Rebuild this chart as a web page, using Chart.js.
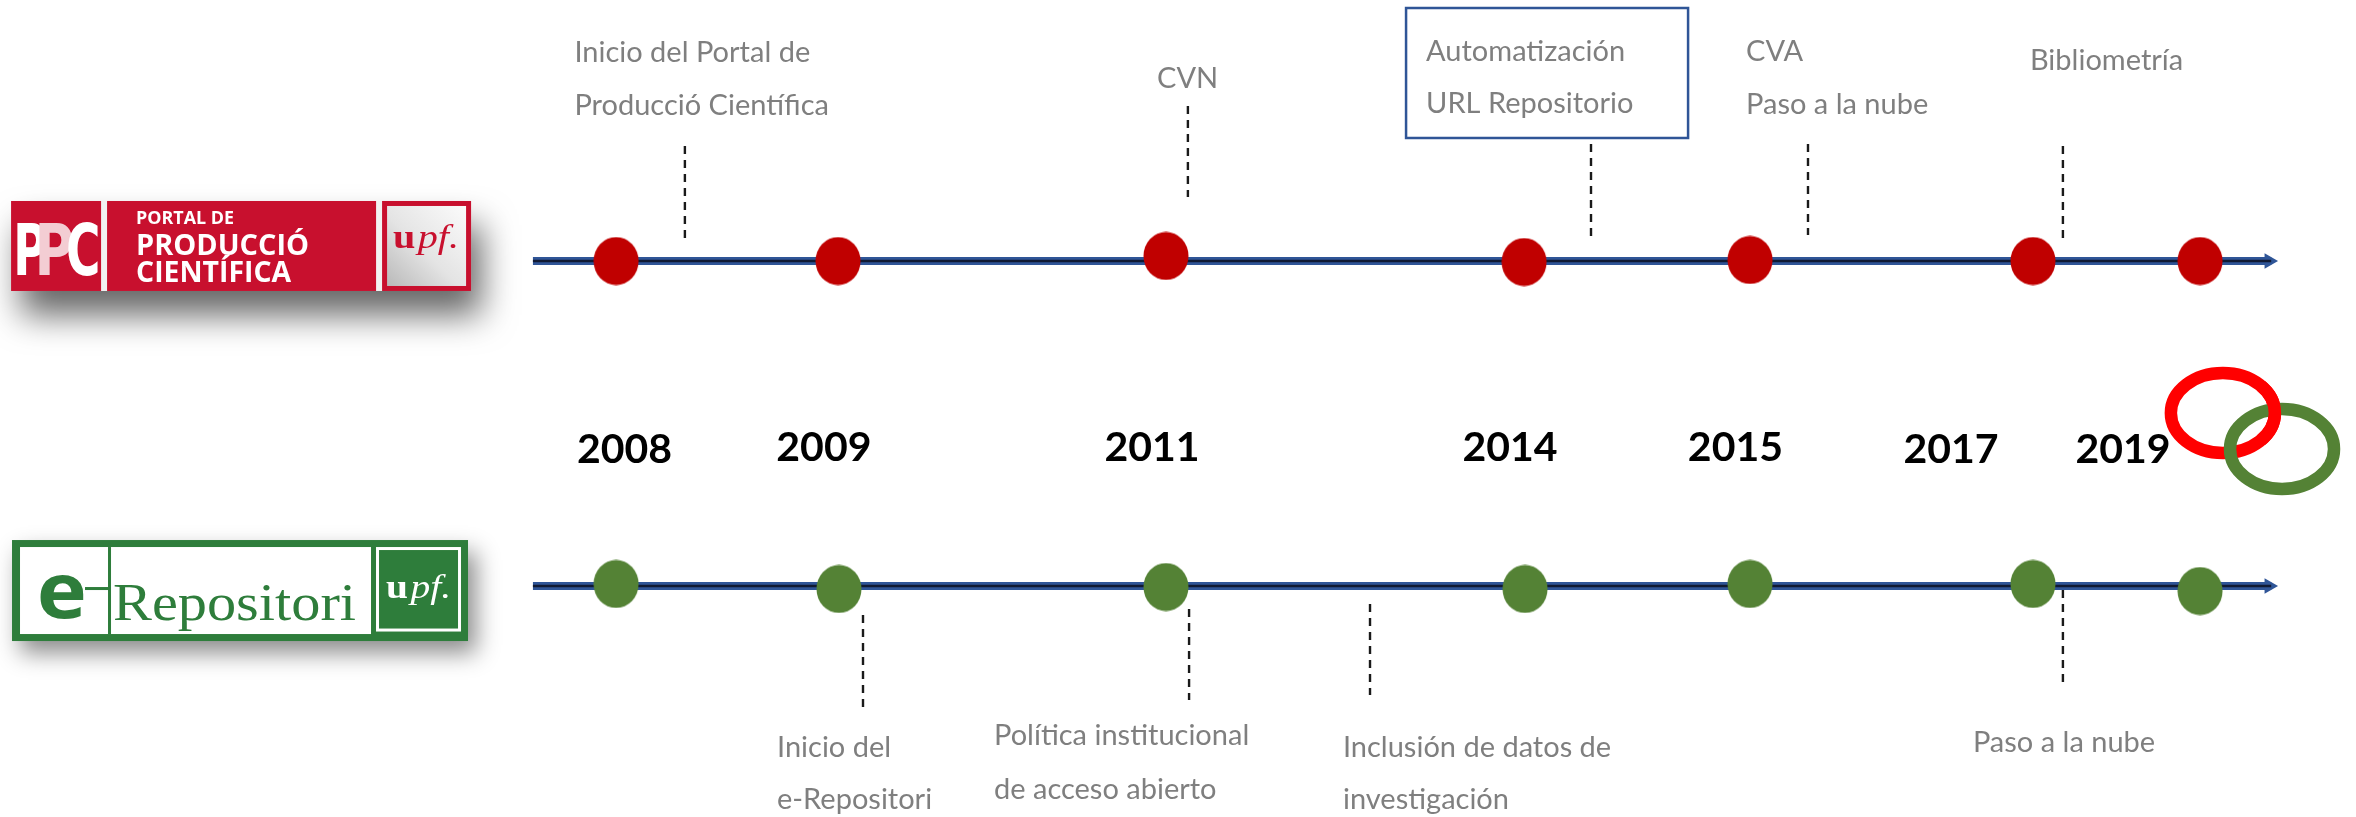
<!DOCTYPE html>
<html>
<head>
<meta charset="utf-8">
<script src="https://cdn.jsdelivr.net/npm/chart.js@4.4.1/dist/chart.umd.min.js"></script>
<style>
  html, body { margin: 0; padding: 0; background: #ffffff; }
  #wrap { width: 2356px; height: 817px; position: relative; }
</style>
</head>
<body>
<div id="wrap"><canvas id="timeline"></canvas></div>
<script>
// ================= DATA =================
// Both axes run 0–100 (% of the timeline board). Milestone years:
const years = ['2008', '2009', '2011', '2014', '2015', '2017', '2019'];
// where each yearly milestone sits along the two timelines
const ppcMilestoneX  = [26.15, 35.57, 49.49, 64.69, 74.28, 86.29, 93.38];
const ppcMilestoneY  = [31.95, 31.95, 31.33, 32.07, 31.82, 31.95, 31.95];
const repoMilestoneX = [26.15, 35.61, 49.49, 64.73, 74.28, 86.29, 93.38];
const repoMilestoneY = [71.48, 72.09, 71.85, 72.09, 71.48, 71.48, 72.34];

// events of "Portal de Producció Científica" (above its line)
const ppcEvents = [
  ['Inicio del Portal de', 'Producció Científica'],
  ['CVN'],
  ['Automatización', 'URL Repositorio'],
  ['CVA', 'Paso a la nube'],
  ['Bibliometría']
];
const ppcEventX = [29.07, 50.42, 67.53, 76.74, 87.56];

// events of "e-Repositori" (below its line)
const repoEvents = [
  ['Inicio del', 'e-Repositori'],
  ['Política institucional', 'de acceso abierto'],
  ['Inclusión de datos de', 'investigación'],
  ['Paso a la nube']
];
const repoEventX = [36.63, 50.47, 58.15, 87.56];

// ================= LAYOUT (positions / sizes / styles) =================
const timelineRowY = [31.95, 71.73];
const timelineSpan = [22.62, 96.40];
const arrowX = 96.31;
const yearLabelX = [26.51, 34.97, 48.90, 64.09, 73.66, 82.81, 90.11];
const yearLabelBase = [56.67, 56.43, 56.43, 56.43, 56.43, 56.67, 56.67];
const ppcLeaderY  = [[17.87, 29.13], [12.97, 24.11], [17.63, 28.89], [17.63, 28.76], [17.87, 29.13]];
const repoLeaderY = [[75.28, 86.54], [74.54, 85.68], [73.93, 85.07], [72.22, 83.60]];
const ppcTextX = [24.38, 49.11, 60.53, 74.11, 86.16];
const ppcTextBase = [[7.55, 14.08], [10.81], [7.47, 13.83], [7.47, 13.95], [8.57]];
const repoTextX = [32.98, 42.19, 57.00, 83.74];
const repoTextBase = [[92.66, 99.02], [91.19, 97.80], [92.66, 99.02], [92.04]];
const highlightBox = { x0: 59.68, x1: 71.65, y0: 0.98, y1: 16.89 };
const ringRed   = { x: 94.35, y: 50.55 };
const ringGreen = { x: 96.86, y: 54.96 };
const ppcLogoAnchor  = { x: 0.47, y: 24.60 };
const repoLogoAnchor = { x: 0.51, y: 66.10 };

const RED_DOT = '#C00000', GREEN_DOT = '#548235', AXIS_BLUE = '#2F5597', AXIS_CORE = '#101a33';
const GREY = '#7F7F7F', PPC_RED = '#C8102E', REPO_GREEN = '#2E7D3B';

function ellipseSprite(color, w, h) {
  const c = document.createElement('canvas');
  c.width = w; c.height = h;
  const g = c.getContext('2d');
  g.fillStyle = color;
  g.beginPath();
  g.ellipse(w / 2, h / 2, w / 2 - 0.5, h / 2 - 0.5, 0, 0, Math.PI * 2);
  g.fill();
  return c;
}
const redDot = ellipseSprite(RED_DOT, 46, 49);
const greenDot = ellipseSprite(GREEN_DOT, 46, 49);

const pts = (xs, ys) => xs.map((x, i) => ({ x, y: ys[i] }));

const datasets = [
  { label: 'PPC', data: pts(ppcMilestoneX, ppcMilestoneY), pointStyle: redDot, pointRadius: 23, borderWidth: 0, order: 0 },
  { label: 'e-Repositori', data: pts(repoMilestoneX, repoMilestoneY), pointStyle: greenDot, pointRadius: 23, borderWidth: 0, order: 0 }
];
timelineRowY.forEach((y) => {
  const span = [{ x: timelineSpan[0], y }, { x: timelineSpan[1], y }];
  datasets.push({ data: span, showLine: true, borderColor: AXIS_BLUE, borderWidth: 8, pointRadius: 0, order: 10 });
  datasets.push({ data: span, showLine: true, borderColor: AXIS_CORE, borderWidth: 2.5, pointRadius: 0, order: 9 });
  datasets.push({ data: [{ x: arrowX, y }], pointStyle: 'triangle', rotation: 90, pointRadius: 9,
                  backgroundColor: AXIS_BLUE, borderColor: AXIS_BLUE, borderWidth: 0, order: 9 });
});
ppcEventX.forEach((x, i) => {
  datasets.push({ data: [{ x, y: ppcLeaderY[i][0] }, { x, y: ppcLeaderY[i][1] }], showLine: true,
                  borderColor: '#1a1a1a', borderWidth: 2.4, borderDash: [8, 6], pointRadius: 0, order: 5 });
});
repoEventX.forEach((x, i) => {
  datasets.push({ data: [{ x, y: repoLeaderY[i][0] }, { x, y: repoLeaderY[i][1] }], showLine: true,
                  borderColor: '#1a1a1a', borderWidth: 2.4, borderDash: [8, 6], pointRadius: 0, order: 5 });
});

function fitText(ctx, text, x, y, w) {
  const m = ctx.measureText(text).width;
  ctx.save();
  ctx.translate(x, y);
  ctx.scale(w / m, 1);
  ctx.fillText(text, 0, 0);
  ctx.restore();
}

// draw a glyph so that its ink box fills (x, top, w, h)
function fitBox(ctx, text, x, top, w, h) {
  const m = ctx.measureText(text);
  const iw = m.actualBoundingBoxLeft + m.actualBoundingBoxRight;
  const ih = m.actualBoundingBoxAscent + m.actualBoundingBoxDescent;
  const sx = w / iw, sy = h / ih;
  ctx.save();
  ctx.translate(x + m.actualBoundingBoxLeft * sx, top + m.actualBoundingBoxAscent * sy);
  ctx.scale(sx, sy);
  ctx.fillText(text, 0, 0);
  ctx.restore();
}

function drawUpf(ctx, x, base, width, size, color) {
  ctx.save();
  ctx.fillStyle = color;
  ctx.textAlign = 'left';
  ctx.font = 'bold ' + size + 'px "Liberation Serif"';
  const wu = ctx.measureText('u').width;
  ctx.font = 'italic ' + size + 'px "Liberation Serif"';
  const wp = ctx.measureText('pf.').width;
  const s = width / (wu + wp + 2);
  ctx.translate(x, base);
  ctx.scale(s, 1);
  ctx.font = 'bold ' + size + 'px "Liberation Serif"';
  ctx.fillText('u', 0, 0);
  ctx.font = 'italic ' + size + 'px "Liberation Serif"';
  ctx.fillText('pf.', wu + 2, 0);
  ctx.restore();
}

function drawPPCLogo(ctx, ox, oy) {
  ctx.save();
  ctx.translate(ox, oy);
  ctx.save();
  ctx.shadowColor = 'rgba(0,0,0,0.6)';
  ctx.shadowBlur = 34; ctx.shadowOffsetX = 10; ctx.shadowOffsetY = 24;
  ctx.fillStyle = '#f2f2f2';
  ctx.fillRect(0, 0, 460, 90);
  ctx.restore();
  ctx.fillStyle = PPC_RED;
  ctx.fillRect(0, 0, 90, 90);
  ctx.fillRect(96, 0, 269, 90);
  ctx.fillRect(371, 0, 89, 90);
  const gr = ctx.createLinearGradient(376, 85, 455, 5);
  gr.addColorStop(0, '#b9b9b9'); gr.addColorStop(0.45, '#e4e4e4'); gr.addColorStop(1, '#fbfbfb');
  ctx.fillStyle = gr;
  ctx.fillRect(376, 5, 79, 80);
  ctx.textBaseline = 'alphabetic'; ctx.textAlign = 'left';
  ctx.font = 'bold 72px "DejaVu Sans"';
  ctx.fillStyle = '#ffffff';
  fitBox(ctx, 'P', 6, 22, 28, 52);
  ctx.fillStyle = '#f3cdd3';
  fitBox(ctx, 'P', 28, 22, 33, 52);
  ctx.fillStyle = '#ffffff';
  fitBox(ctx, 'C', 57, 21, 30, 54);
  ctx.font = 'bold 18px "Open Sans"';
  fitText(ctx, 'PORTAL DE', 125, 23, 98);
  ctx.font = 'bold 28px "Open Sans"';
  fitText(ctx, 'PRODUCCIÓ', 125, 54, 173);
  fitText(ctx, 'CIENTÍFICA', 125, 81, 155);
  drawUpf(ctx, 382, 47, 66, 34, PPC_RED);
  ctx.restore();
}

function drawRepoLogo(ctx, ox, oy) {
  ctx.save();
  ctx.translate(ox, oy);
  ctx.save();
  ctx.shadowColor = 'rgba(0,0,0,0.45)';
  ctx.shadowBlur = 22; ctx.shadowOffsetX = 8; ctx.shadowOffsetY = 12;
  ctx.fillStyle = REPO_GREEN;
  ctx.fillRect(0, 0, 456, 101);
  ctx.restore();
  ctx.fillStyle = '#ffffff';
  ctx.fillRect(8, 7, 351, 87);
  ctx.fillStyle = REPO_GREEN;
  ctx.fillRect(96, 7, 3, 87);
  ctx.fillRect(73, 47, 25, 3);
  ctx.textBaseline = 'alphabetic'; ctx.textAlign = 'left';
  ctx.font = 'bold 79px "Open Sans"';
  fitBox(ctx, 'e', 28, 35, 44, 44);
  ctx.font = '52px "Liberation Serif"';
  fitText(ctx, 'Repositori', 101, 80, 243);
  ctx.strokeStyle = '#ffffff';
  ctx.lineWidth = 3;
  ctx.strokeRect(365.5, 8.5, 82, 81.5);
  drawUpf(ctx, 374, 58, 65, 33, '#ffffff');
  ctx.restore();
}

const decorPlugin = {
  id: 'timelineDecor',
  beforeDatasetsDraw(chart) {
    const { ctx, scales: { x, y } } = chart;
    drawPPCLogo(ctx, x.getPixelForValue(ppcLogoAnchor.x), y.getPixelForValue(ppcLogoAnchor.y));
    drawRepoLogo(ctx, x.getPixelForValue(repoLogoAnchor.x), y.getPixelForValue(repoLogoAnchor.y));
    // interlocking rings
    const rx = x.getPixelForValue(ringRed.x), ry = y.getPixelForValue(ringRed.y);
    const gx = x.getPixelForValue(ringGreen.x), gy = y.getPixelForValue(ringGreen.y);
    ctx.save();
    ctx.lineWidth = 12.5;
    ctx.strokeStyle = '#FF0000';
    ctx.beginPath(); ctx.ellipse(rx, ry, 52, 40, 0, 0, Math.PI * 2); ctx.stroke();
    ctx.strokeStyle = GREEN_DOT;
    ctx.beginPath(); ctx.ellipse(gx, gy, 52, 40, 0, 0, Math.PI * 2); ctx.stroke();
    ctx.strokeStyle = '#FF0000';
    ctx.beginPath(); ctx.ellipse(rx, ry, 52, 40, 0, -0.75, 0.75); ctx.stroke();
    ctx.restore();
  },
  afterDatasetsDraw(chart) {
    const { ctx, scales: { x, y } } = chart;
    ctx.save();
    // highlight box
    ctx.strokeStyle = AXIS_BLUE;
    ctx.lineWidth = 2.5;
    const bx0 = x.getPixelForValue(highlightBox.x0), bx1 = x.getPixelForValue(highlightBox.x1);
    const by0 = y.getPixelForValue(highlightBox.y0), by1 = y.getPixelForValue(highlightBox.y1);
    ctx.strokeRect(bx0, by0, bx1 - bx0, by1 - by0);
    // event texts
    ctx.fillStyle = GREY;
    ctx.font = '29px Lato';
    ctx.textAlign = 'left';
    ctx.textBaseline = 'alphabetic';
    ppcEvents.forEach((lines, i) => {
      lines.forEach((t, j) => ctx.fillText(t, x.getPixelForValue(ppcTextX[i]), y.getPixelForValue(ppcTextBase[i][j])));
    });
    repoEvents.forEach((lines, i) => {
      lines.forEach((t, j) => ctx.fillText(t, x.getPixelForValue(repoTextX[i]), y.getPixelForValue(repoTextBase[i][j])));
    });
    // year labels
    ctx.fillStyle = '#000000';
    ctx.font = 'bold 41px Lato';
    ctx.textAlign = 'center';
    years.forEach((yr, i) => ctx.fillText(yr, x.getPixelForValue(yearLabelX[i]), y.getPixelForValue(yearLabelBase[i])));
    ctx.restore();
  }
};

new Chart(document.getElementById('timeline'), {
  type: 'scatter',
  data: { datasets },
  options: {
    responsive: true,
    maintainAspectRatio: false,
    animation: false,
    events: [],
    layout: { padding: 0, autoPadding: false },
    plugins: { legend: { display: false }, tooltip: { enabled: false } },
    scales: {
      x: { type: 'linear', min: 0, max: 100, display: false },
      y: { type: 'linear', min: 0, max: 100, reverse: true, display: false }
    }
  },
  plugins: [decorPlugin]
});
</script>
</body>
</html>
